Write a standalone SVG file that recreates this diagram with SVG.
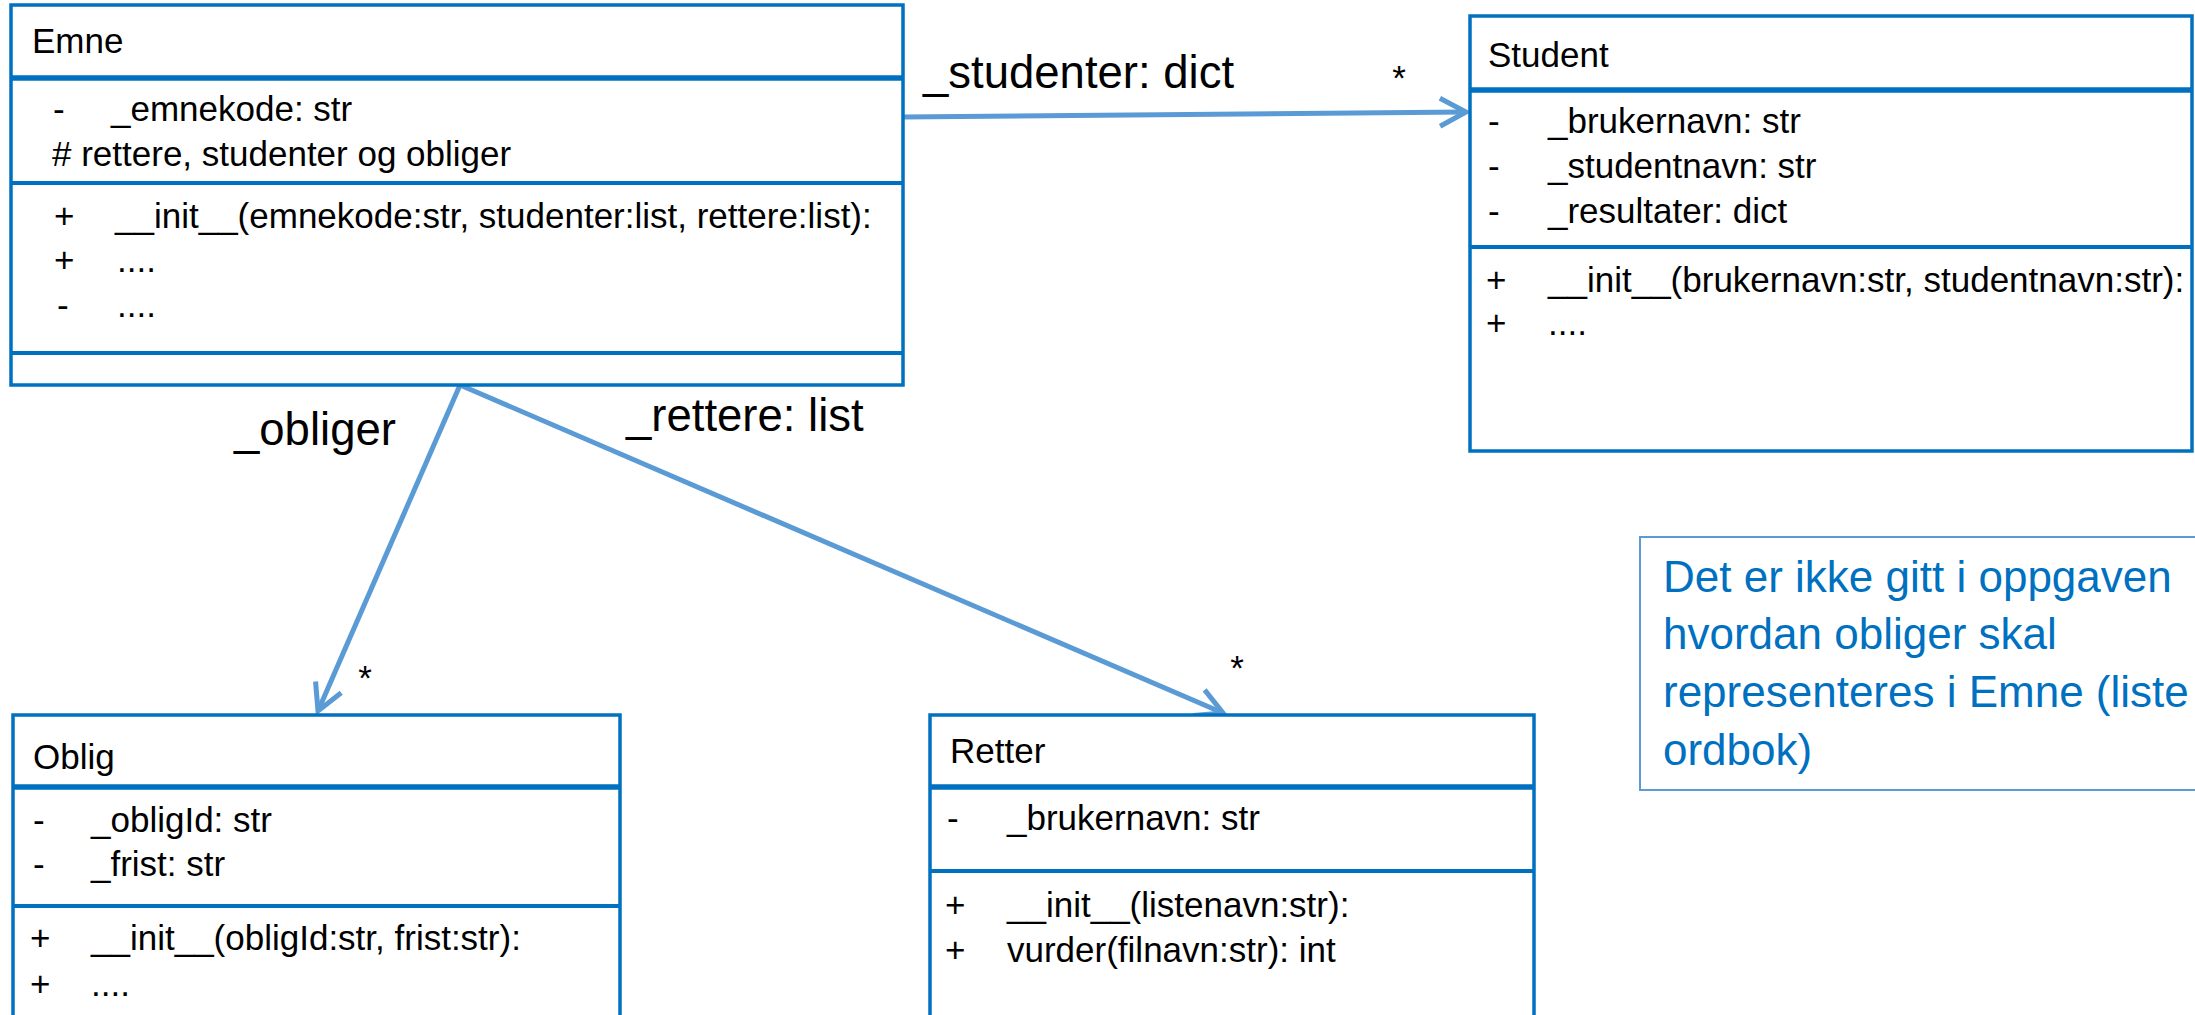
<svg xmlns="http://www.w3.org/2000/svg" width="2195" height="1015" viewBox="0 0 2195 1015">
<style>
  .box { fill: #ffffff; stroke: #0070c0; stroke-width: 3.5; }
  .div { stroke: #0070c0; stroke-width: 4; }
  .hdr { stroke: #0070c0; stroke-width: 5.5; }
  .t { font-family: "Liberation Sans", Arial, sans-serif; font-size: 35px; fill: #000000; }
  .lbl { font-family: "Liberation Sans", Arial, sans-serif; font-size: 45.5px; fill: #000000; }
  .star { font-family: "Liberation Sans", Arial, sans-serif; font-size: 35px; fill: #000000; text-anchor: middle; }
  .conn { fill: none; stroke: #5b9bd5; stroke-width: 5; }
  .note { fill: #ffffff; stroke: #5b9bd5; stroke-width: 2; }
  .nt { font-family: "Liberation Sans", Arial, sans-serif; font-size: 44px; fill: #0070c0; }
</style>
<defs>
  <marker id="open" markerUnits="userSpaceOnUse" orient="auto" refX="0" refY="0" markerWidth="40" markerHeight="40" overflow="visible">
    <path d="M -26 -14 L 0 0 L -26 14" fill="none" stroke="#5b9bd5" stroke-width="5" stroke-linejoin="miter"/>
  </marker>
</defs>
<rect width="2195" height="1015" fill="#ffffff"/>

<g id="connectors">
  <line class="conn" x1="903" y1="117" x2="1466" y2="112" marker-end="url(#open)"/>
  <line class="conn" x1="460" y1="385" x2="318" y2="711" marker-end="url(#open)"/>
  <line class="conn" x1="460" y1="385" x2="1223" y2="713" marker-end="url(#open)"/>
  <text class="lbl" x="923" y="88">_studenter: dict</text>
  <text class="star" x="1399" y="90">*</text>
  <text class="lbl" x="234" y="445">_obliger</text>
  <text class="star" x="365" y="690">*</text>
  <text class="lbl" x="626" y="431">_rettere: list</text>
  <text class="star" x="1237" y="680">*</text>
</g>

<g id="emne">
  <rect class="box" x="11" y="5" width="892" height="380"/>
  <line class="hdr" x1="11" y1="78" x2="903" y2="78"/>
  <line class="div" x1="11" y1="183" x2="903" y2="183"/>
  <line class="div" x1="11" y1="353" x2="903" y2="353"/>
  <text class="t" x="32" y="53">Emne</text>
  <text class="t" x="53" y="121">-</text>
  <text class="t" x="111" y="121">_emnekode: str</text>
  <text class="t" x="52" y="166"># rettere, studenter og obliger</text>
  <text class="t" x="54" y="228">+</text>
  <text class="t" x="115" y="228">__init__(emnekode:str, studenter:list, rettere:list):</text>
  <text class="t" x="54" y="272">+</text>
  <text class="t" x="117" y="272">....</text>
  <text class="t" x="57" y="317">-</text>
  <text class="t" x="117" y="317">....</text>
</g>

<g id="student">
  <rect class="box" x="1470" y="16" width="722" height="435"/>
  <line class="hdr" x1="1470" y1="90" x2="2192" y2="90"/>
  <line class="div" x1="1470" y1="247" x2="2192" y2="247"/>
  <text class="t" x="1488" y="67">Student</text>
  <text class="t" x="1488" y="133">-</text>
  <text class="t" x="1548" y="133">_brukernavn: str</text>
  <text class="t" x="1488" y="178">-</text>
  <text class="t" x="1548" y="178">_studentnavn: str</text>
  <text class="t" x="1488" y="223">-</text>
  <text class="t" x="1548" y="223">_resultater: dict</text>
  <text class="t" x="1486" y="292">+</text>
  <text class="t" x="1548" y="292">__init__(brukernavn:str, studentnavn:str):</text>
  <text class="t" x="1486" y="335">+</text>
  <text class="t" x="1548" y="335">....</text>
</g>

<g id="oblig">
  <rect class="box" x="13" y="715" width="607" height="320"/>
  <line class="hdr" x1="13" y1="787" x2="620" y2="787"/>
  <line class="div" x1="13" y1="906" x2="620" y2="906"/>
  <text class="t" x="33" y="769">Oblig</text>
  <text class="t" x="33" y="832">-</text>
  <text class="t" x="91" y="832">_obligId: str</text>
  <text class="t" x="33" y="876">-</text>
  <text class="t" x="91" y="876">_frist: str</text>
  <text class="t" x="30" y="950">+</text>
  <text class="t" x="91" y="950">__init__(obligId:str, frist:str):</text>
  <text class="t" x="30" y="996">+</text>
  <text class="t" x="91" y="996">....</text>
</g>

<g id="retter">
  <rect class="box" x="930" y="715" width="604" height="320"/>
  <line class="hdr" x1="930" y1="787" x2="1534" y2="787"/>
  <line class="div" x1="930" y1="871" x2="1534" y2="871"/>
  <text class="t" x="950" y="763">Retter</text>
  <text class="t" x="947" y="830">-</text>
  <text class="t" x="1007" y="830">_brukernavn: str</text>
  <text class="t" x="945" y="917">+</text>
  <text class="t" x="1007" y="917">__init__(listenavn:str):</text>
  <text class="t" x="945" y="962">+</text>
  <text class="t" x="1007" y="962">vurder(filnavn:str): int</text>
</g>

<g id="note">
  <rect class="note" x="1640" y="537" width="600" height="253"/>
  <text class="nt" x="1663" y="592">Det er ikke gitt i oppgaven</text>
  <text class="nt" x="1663" y="649">hvordan obliger skal</text>
  <text class="nt" x="1663" y="707">representeres i Emne (liste</text>
  <text class="nt" x="1663" y="765">ordbok)</text>
</g>
</svg>
